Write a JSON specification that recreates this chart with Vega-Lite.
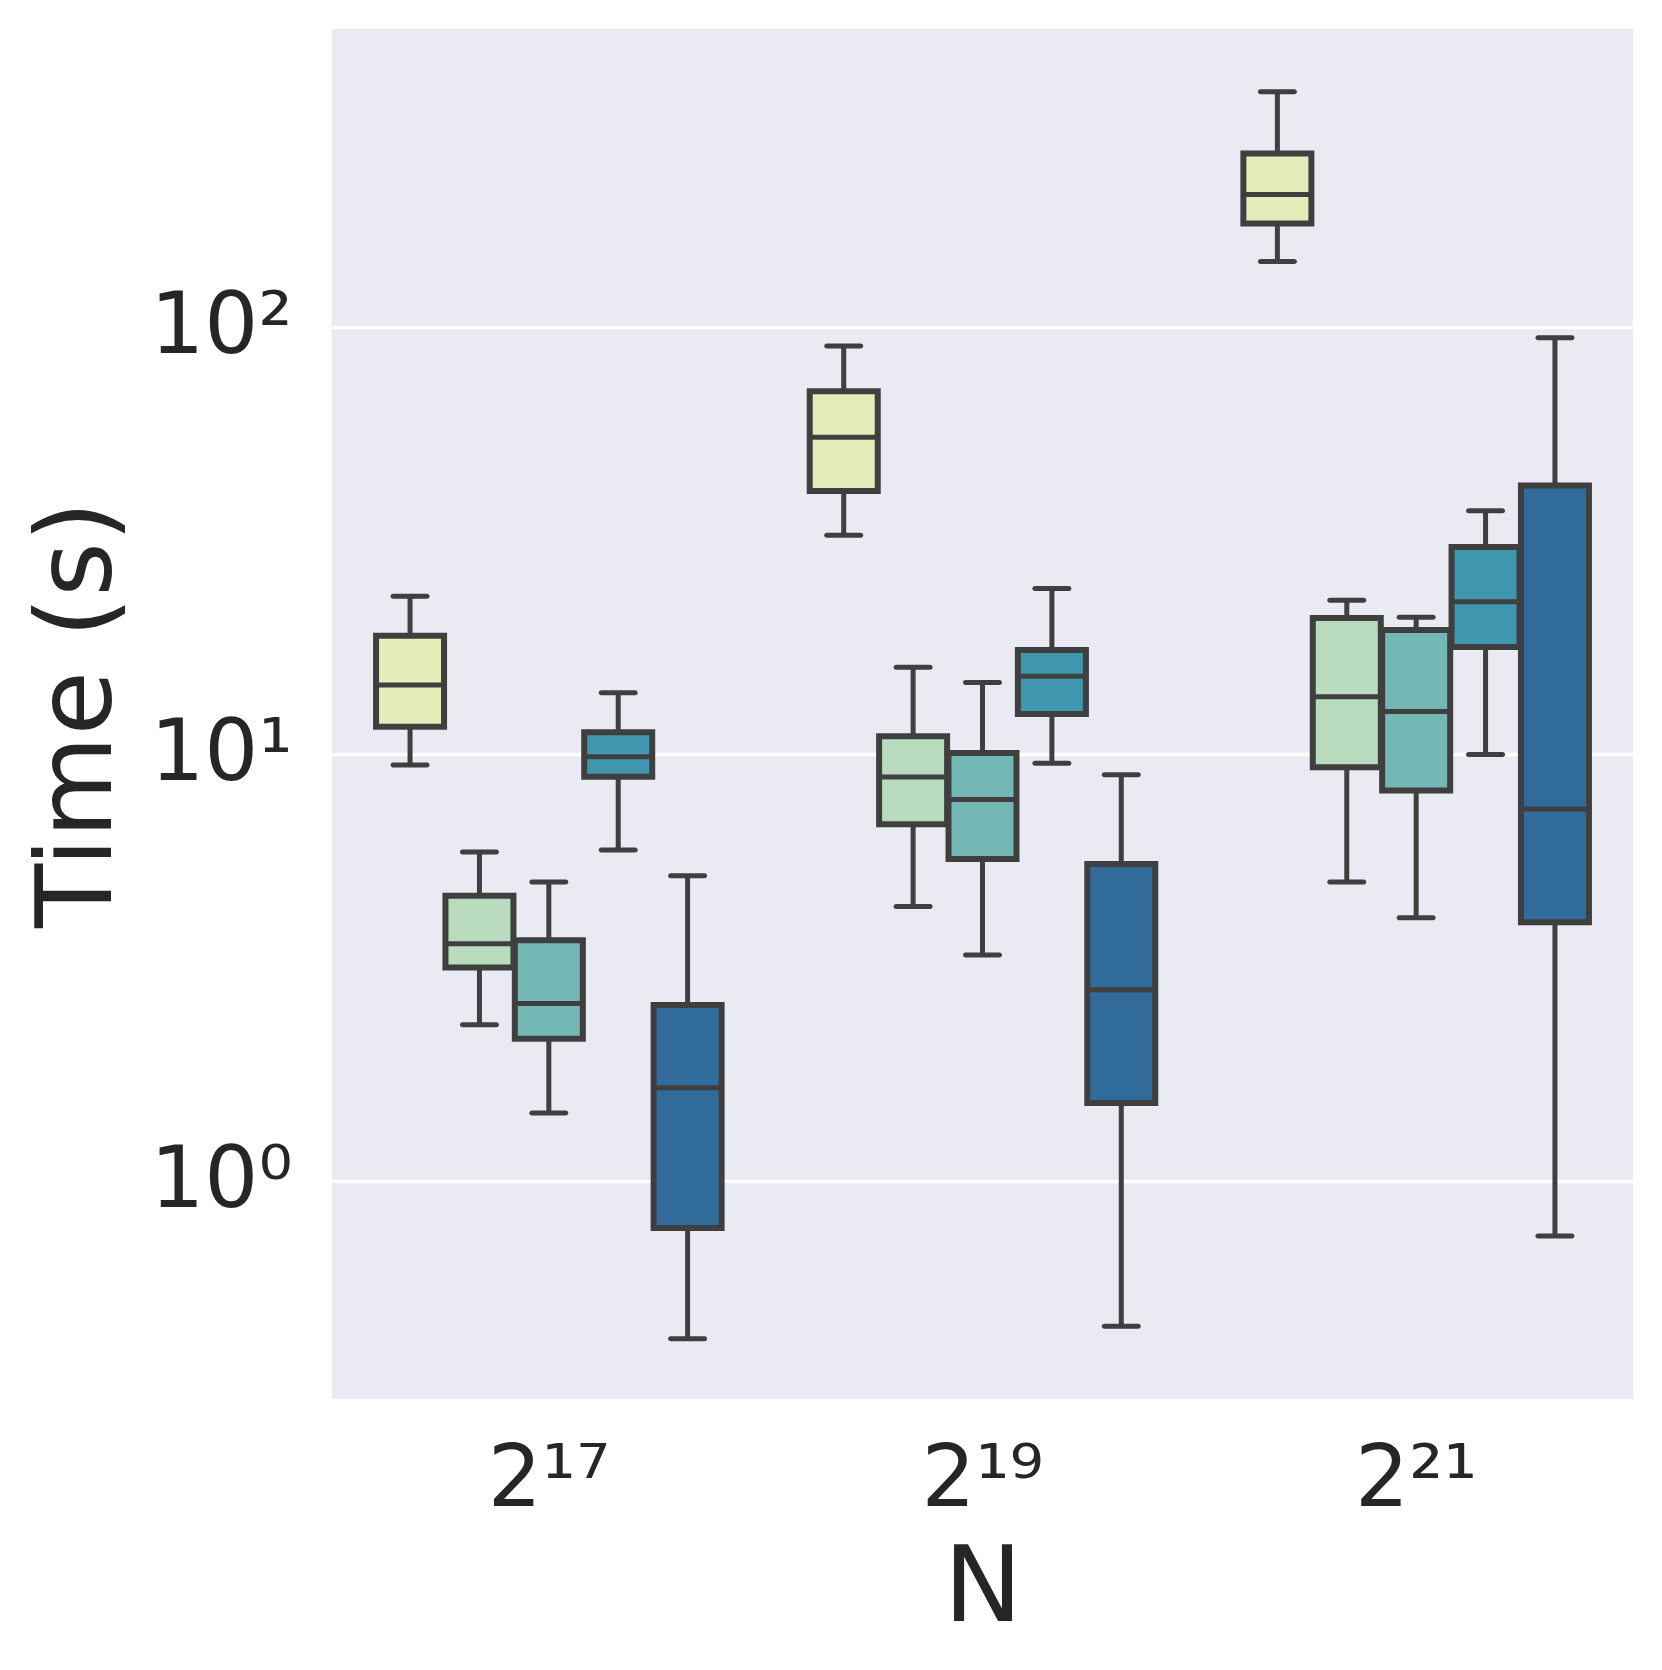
{
  "$schema": "https://vega.github.io/schema/vega-lite/v6.json",
  "width": 1301,
  "height": 1370,
  "autosize": "none",
  "padding": {"left": 332, "top": 29, "right": 29, "bottom": 271},
  "background": "#ffffff",
  "data": {
    "values": [
      {"N": "2¹⁷", "variant": "v1", "lo": 9.42, "q1": 11.58, "med": 14.5, "q3": 18.9, "hi": 23.4},
      {"N": "2¹⁷", "variant": "v2", "lo": 2.32, "q1": 3.16, "med": 3.59, "q3": 4.65, "hi": 5.89},
      {"N": "2¹⁷", "variant": "v3", "lo": 1.44, "q1": 2.15, "med": 2.6, "q3": 3.66, "hi": 5.01},
      {"N": "2¹⁷", "variant": "v4", "lo": 5.95, "q1": 8.84, "med": 9.85, "q3": 11.23, "hi": 13.9},
      {"N": "2¹⁷", "variant": "v5", "lo": 0.426, "q1": 0.775, "med": 1.65, "q3": 2.58, "hi": 5.18},
      {"N": "2¹⁹", "variant": "v1", "lo": 32.5, "q1": 41.3, "med": 55.2, "q3": 70.7, "hi": 90.3},
      {"N": "2¹⁹", "variant": "v2", "lo": 4.39, "q1": 6.84, "med": 8.82, "q3": 11.0, "hi": 15.96},
      {"N": "2¹⁹", "variant": "v3", "lo": 3.38, "q1": 5.67, "med": 7.82, "q3": 10.04, "hi": 14.7},
      {"N": "2¹⁹", "variant": "v4", "lo": 9.51, "q1": 12.4, "med": 15.2, "q3": 17.5, "hi": 24.4},
      {"N": "2¹⁹", "variant": "v5", "lo": 0.456, "q1": 1.52, "med": 2.8, "q3": 5.52, "hi": 8.93},
      {"N": "2²¹", "variant": "v1", "lo": 142.3, "q1": 174.7, "med": 204.3, "q3": 254.8, "hi": 355.6},
      {"N": "2²¹", "variant": "v2", "lo": 5.01, "q1": 9.3, "med": 13.6, "q3": 20.8, "hi": 22.9},
      {"N": "2²¹", "variant": "v3", "lo": 4.13, "q1": 8.2, "med": 12.56, "q3": 19.5, "hi": 20.9},
      {"N": "2²¹", "variant": "v4", "lo": 9.96, "q1": 17.8, "med": 22.7, "q3": 30.5, "hi": 37.1},
      {"N": "2²¹", "variant": "v5", "lo": 0.742, "q1": 4.03, "med": 7.43, "q3": 42.5, "hi": 94.4}
    ]
  },
  "encoding": {
    "x": {
      "field": "N",
      "type": "nominal",
      "sort": ["2¹⁷", "2¹⁹", "2²¹"],
      "title": "N",
      "scale": {"paddingInner": 0.2, "paddingOuter": 0.1},
      "axis": {
        "labelAngle": 0,
        "labelFontSize": 85,
        "labelPadding": 39,
        "titleFontSize": 105,
        "titlePadding": 15,
        "ticks": false,
        "domain": false,
        "grid": false
      }
    },
    "xOffset": {
      "field": "variant",
      "type": "nominal",
      "scale": {"paddingInner": 0.02, "paddingOuter": 0.01}
    }
  },
  "layer": [
    {
      "mark": {"type": "rule", "color": "#3f3f3f", "strokeWidth": 5},
      "encoding": {
        "y": {
          "field": "lo",
          "type": "quantitative",
          "title": "Time (s)",
          "scale": {"type": "log", "domain": [0.308, 499], "nice": false, "zero": false},
          "axis": {
            "values": [1, 10, 100],
            "labelExpr": "datum.value == 1 ? '10⁰' : datum.value == 10 ? '10¹' : '10²'",
            "labelFontSize": 85,
            "labelPadding": 40,
            "titleFontSize": 105,
            "titlePadding": 17,
            "ticks": false,
            "domain": false,
            "grid": true,
            "gridColor": "#ffffff",
            "gridWidth": 3.7
          }
        },
        "y2": {"field": "hi"}
      }
    },
    {
      "mark": {"type": "bar", "stroke": "#3f3f3f", "strokeWidth": 6},
      "encoding": {
        "y": {"field": "q1", "type": "quantitative", "title": "Time (s)"},
        "y2": {"field": "q3"},
        "color": {
          "field": "variant",
          "type": "nominal",
          "legend": null,
          "scale": {
            "domain": ["v1", "v2", "v3", "v4", "v5"],
            "range": ["#e2edba", "#b8dcbd", "#73b8b4", "#4196af", "#316b9a"]
          }
        }
      }
    },
    {
      "mark": {"type": "tick", "color": "#3f3f3f", "size": 64, "thickness": 5, "opacity": 1},
      "encoding": {
        "y": {"field": "med", "type": "quantitative", "title": "Time (s)"}
      }
    },
    {
      "mark": {"type": "tick", "color": "#3f3f3f", "size": 39, "thickness": 5, "opacity": 1, "cornerRadius": 2.5},
      "encoding": {
        "y": {"field": "lo", "type": "quantitative", "title": "Time (s)"}
      }
    },
    {
      "mark": {"type": "tick", "color": "#3f3f3f", "size": 39, "thickness": 5, "opacity": 1, "cornerRadius": 2.5},
      "encoding": {
        "y": {"field": "hi", "type": "quantitative", "title": "Time (s)"}
      }
    }
  ],
  "config": {
    "font": "DejaVu Sans",
    "view": {"fill": "#eaeaf2", "stroke": null},
    "axis": {
      "labelColor": "#262626",
      "titleColor": "#262626",
      "titleFontWeight": "normal",
      "labelFont": "DejaVu Sans",
      "titleFont": "DejaVu Sans"
    }
  }
}
